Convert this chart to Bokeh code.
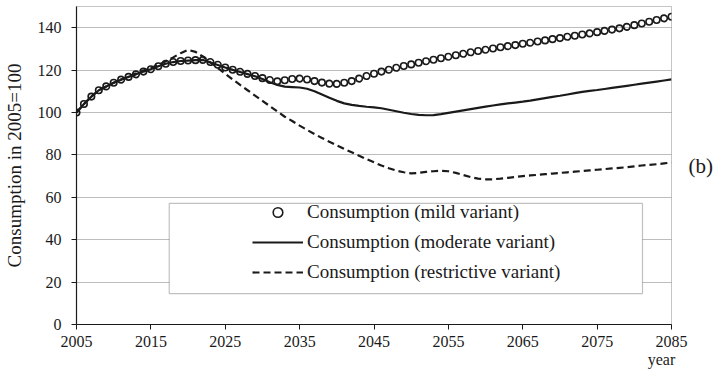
from bokeh.plotting import figure
from bokeh.models import (Range1d, FixedTicker, Legend, LegendItem,
                          BoxAnnotation, LinearAxis)
from bokeh.embed import file_html
from bokeh.resources import INLINE

# Consumption index, 2005 = 100, one value per year 2005..2085
years = list(range(2005, 2086))

mild = [
    100, 104, 107.5, 110.5, 112.3, 114, 115.5, 116.8, 118, 119.3,          # 2005-2014
    120.4, 121.8, 123, 123.8, 124.3, 124.5, 124.7, 124.8, 123.8, 122.5,    # 2015-2024
    121.2, 120.2, 119.2, 118.2, 117.2, 116.2, 115.3, 114.7, 115.2, 115.8,  # 2025-2034
    116, 115.6, 114.8, 114.1, 113.6, 113.5, 114, 114.8, 116, 117.2,        # 2035-2044
    118.3, 119.3, 120.2, 121.1, 121.9, 122.7, 123.5, 124.2, 124.9, 125.6,  # 2045-2054
    126.3, 127, 127.7, 128.4, 129, 129.6, 130.2, 130.8, 131.3, 131.8,      # 2055-2064
    132.4, 132.9, 133.5, 134, 134.6, 135.1, 135.7, 136.2, 136.8, 137.3,    # 2065-2074
    137.9, 138.5, 139.1, 139.7, 140.4, 141.2, 142, 142.8, 143.6, 144.4,    # 2075-2084
    145.2,                                                                 # 2085
]

moderate = [
    100, 104, 107.5, 110.5, 112.3, 114, 115.5, 116.8, 118, 119.3,          # 2005-2014
    120.4, 121.8, 123, 123.8, 124.3, 124.5, 124.7, 124.8, 123.6, 122.4,    # 2015-2024
    121.2, 120.1, 119.1, 118.1, 117.1, 115.8, 114.3, 113, 112.2, 112,      # 2025-2034
    111.8, 111.2, 110, 108.5, 107, 105.5, 104.3, 103.6, 103.1, 102.7,      # 2035-2044
    102.4, 102, 101.3, 100.6, 99.9, 99.3, 98.9, 98.7, 98.8, 99.2,          # 2045-2054
    99.8, 100.4, 101, 101.6, 102.2, 102.8, 103.3, 103.8, 104.3, 104.7,     # 2055-2064
    105.1, 105.6, 106.2, 106.8, 107.4, 107.9, 108.5, 109.1, 109.7, 110.2,  # 2065-2074
    110.6, 111.1, 111.6, 112.1, 112.6, 113.1, 113.6, 114.1, 114.6, 115.1,  # 2075-2084
    115.6,                                                                 # 2085
]

restrictive = [
    100, 104, 107.5, 110.5, 112.3, 114, 115.6, 117, 118.4, 119.8,          # 2005-2014
    121, 122.5, 124.2, 126, 128, 129.5, 128.6, 126.4, 123.6, 121,          # 2015-2024
    118.3, 115.6, 113, 110.5, 108, 105.5, 103, 100.5, 98, 96,              # 2025-2034
    93.8, 91.8, 89.8, 88, 86.2, 84.5, 82.8, 81.2, 79.6, 78,                # 2035-2044
    76.5, 75, 73.7, 72.6, 71.8, 71.3, 71.5, 72, 72.3, 72.5,                # 2045-2054
    72.3, 71.5, 70.5, 69.5, 68.8, 68.5, 68.5, 68.8, 69.2, 69.6,            # 2055-2064
    70, 70.3, 70.6, 70.9, 71.2, 71.5, 71.8, 72.1, 72.4, 72.7,              # 2065-2074
    73, 73.3, 73.6, 73.9, 74.2, 74.6, 75, 75.3, 75.6, 76,                  # 2075-2084
    76.4,                                                                  # 2085
]

series_labels = [
    "Consumption (mild variant)",
    "Consumption (moderate variant)",
    "Consumption (restrictive variant)",
]
x_ticks = [2005, 2015, 2025, 2035, 2045, 2055, 2065, 2075, 2085]
y_ticks = [0, 20, 40, 60, 80, 100, 120, 140]

SERIF = "Liberation Serif"
INK = "#1a1a1a"

p = figure(width=716, height=374, output_backend="svg", toolbar_location=None,
           x_range=Range1d(2005, 2085), y_range=Range1d(0, 150),
           min_border_left=74, min_border_right=45,
           min_border_top=6, min_border_bottom=50,
           background_fill_color="white", border_fill_color="white")

# frame and grid
p.outline_line_color = "#8a8a8a"
p.outline_line_width = 1
p.outline_line_dash = "1 1"
p.xgrid.visible = False
p.ygrid.ticker = FixedTicker(ticks=y_ticks)
p.ygrid.grid_line_color = "#7a7a7a"
p.ygrid.grid_line_dash = "1 1"
p.ygrid.grid_line_width = 1

# axes
p.xaxis.ticker = FixedTicker(ticks=x_ticks)
p.yaxis.ticker = FixedTicker(ticks=y_ticks)
for ax in (p.xaxis[0], p.yaxis[0]):
    ax.axis_line_color = INK
    ax.axis_line_width = 1.2
    ax.major_tick_line_color = INK
    ax.major_tick_in = 0
    ax.major_tick_out = 5
    ax.minor_tick_line_color = None
    ax.major_label_text_font = SERIF
    ax.major_label_text_font_size = "16px"
    ax.major_label_text_color = INK
p.xaxis.major_label_standoff = 6
p.yaxis.major_label_standoff = 10
p.yaxis.axis_label = "Consumption in 2005=100"
p.yaxis.axis_label_text_font = SERIF
p.yaxis.axis_label_text_font_size = "19px"
p.yaxis.axis_label_text_font_style = "normal"
p.yaxis.axis_label_text_color = INK
p.yaxis.axis_label_standoff = 10

# "year" sits under the last tick; trailing no-break spaces pull it left
p.xaxis.axis_label = "year\u00a0\u00a0\u00a0\u00a0\u00a0"
p.xaxis.axis_label_align = "end"
p.xaxis.axis_label_text_font = SERIF
p.xaxis.axis_label_text_font_size = "16px"
p.xaxis.axis_label_text_font_style = "normal"
p.xaxis.axis_label_text_color = INK
p.xaxis.axis_label_standoff = 1

# panel tag on the right-hand side
tag_axis = LinearAxis(ticker=FixedTicker(ticks=[]), axis_label="(b)",
                      axis_line_color=None, major_tick_line_color=None,
                      minor_tick_line_color=None, major_tick_out=0,
                      major_label_text_font_size="0px",
                      axis_label_orientation="horizontal",
                      axis_label_standoff=17,
                      axis_label_text_font=SERIF,
                      axis_label_text_font_size="21px",
                      axis_label_text_font_style="normal",
                      axis_label_text_color=INK)
p.add_layout(tag_axis, "right")

# series
r_mild = p.scatter(years, mild, marker="circle", size=6.5, fill_color=None,
                   line_color=INK, line_width=1.6)
r_mod = p.line(years, moderate, line_color=INK, line_width=2.2)
r_res = p.line(years, restrictive, line_color=INK, line_width=2.2,
               line_dash="7 4")

# legend box with the entries inside it
p.add_layout(BoxAnnotation(left=2017.47, right=2081.1, top=57.1, bottom=14.6,
                           fill_color="white", fill_alpha=1,
                           line_color="#333333", line_width=1.2))
legend = Legend(
    items=[LegendItem(label=series_labels[0], renderers=[r_mild]),
           LegendItem(label=series_labels[1], renderers=[r_mod]),
           LegendItem(label=series_labels[2], renderers=[r_res])],
    location=(176, 40), padding=0, margin=0, spacing=6,
    label_height=24, glyph_height=24, glyph_width=51, label_standoff=4,
    background_fill_alpha=0, border_line_alpha=0,
    label_text_font=SERIF, label_text_font_size="19px",
    label_text_color=INK)
p.add_layout(legend)

open("out.html", "w").write(file_html(p, INLINE))
